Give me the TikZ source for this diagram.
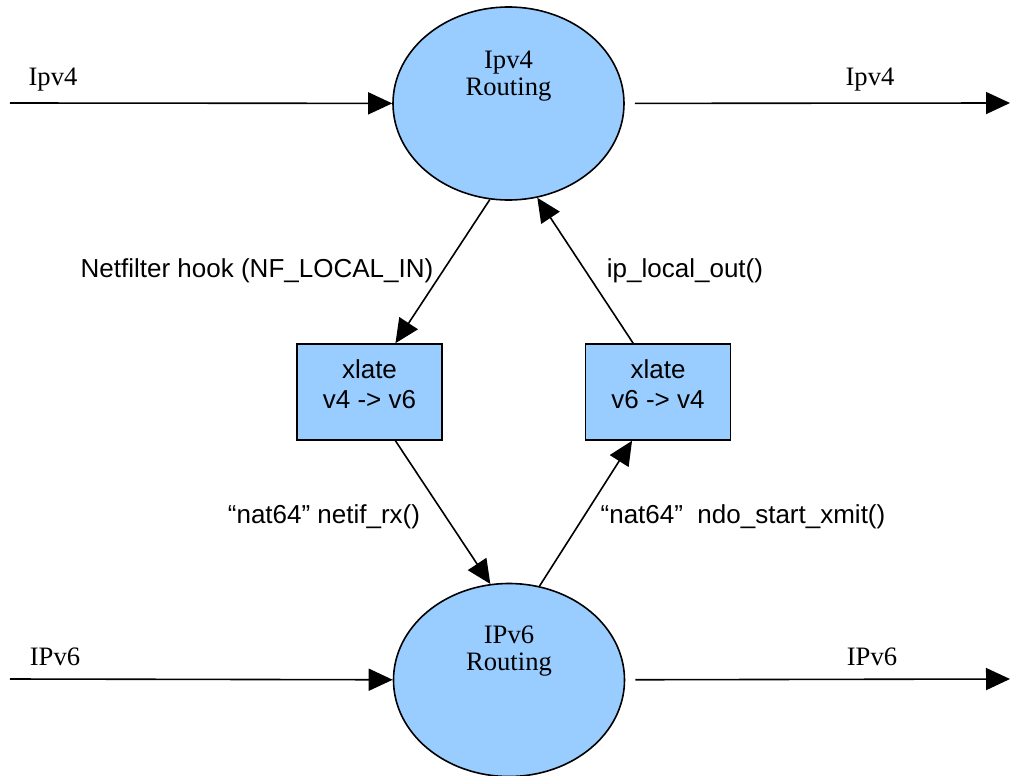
\documentclass[tikz,border=0pt]{standalone}
\usepackage{fontspec}
\setmainfont{Liberation Serif}
\setsansfont{Liberation Sans}
\usetikzlibrary{shapes.geometric,arrows.meta}

\definecolor{nodeblue}{RGB}{153,204,255}

\begin{document}
\begin{tikzpicture}[x=0.5pt,y=-0.5pt,
  routing/.style={ellipse,draw,line width=0.8pt,fill=nodeblue,inner sep=0pt,minimum width=115.5pt,minimum height=96.5pt},
  rtext/.style={font=\fontsize{13.3}{13.5}\selectfont,align=center},
  xlatebox/.style={rectangle,draw,line width=0.8pt,fill=nodeblue,minimum width=72.5pt,minimum height=48pt},
  xtext/.style={align=center,font=\sffamily\fontsize{13}{15}\selectfont},
  hooklabel/.style={font=\sffamily\fontsize{13}{15}\selectfont},
  flow/.style={line width=0.8pt,-{Triangle[length=12pt,width=11pt]}}]

\useasboundingbox (0,0) rectangle (1012,776);

% routing nodes
\node[routing] (rfour) at (508.5,103.5) {};
\node[rtext] (rfourtext) at (508.5,76) {Ipv4\\Routing};
\node[routing] (rsix) at (509,680) {};
\node[rtext] (rsixtext) at (509,651) {IPv6\\Routing};

% translators
\node[xlatebox] (xfour) at (369.5,392) {};
\node[xtext] (xfourtext) at (369.5,384) {xlate\\v4 -> v6};
\node[xlatebox] (xsix) at (658,392) {};
\node[xtext] (xsixtext) at (658,384) {xlate\\v6 -> v4};

% free ends
\coordinate (fourin) at (10,103);
\coordinate (fourout) at (1010,103);
\coordinate (sixin) at (10,679);
\coordinate (sixout) at (1010,679);

% edges
\draw[flow] (fourin) -- (rfour);
\draw[flow,shorten <=5pt] (rfour) -- (fourout);
\draw[flow] (sixin) -- (rsix);
\draw[flow,shorten <=5pt] (rsix) -- (sixout);

\draw[flow] (rfour.259) -- (xfour.62);
\draw[flow] (xsix.117) -- (rfour.287);
\draw[flow] (xfour.298) -- (rsix.101);
\draw[flow] (rsix.72) -- (xsix.242);

% labels
\node[rtext] (lfourin) at (53,80) {Ipv4};
\node[rtext] (lfourout) at (870,80) {Ipv4};
\node[rtext] (lsixin) at (55,657) {IPv6};
\node[rtext] (lsixout) at (872,657) {IPv6};

\node[hooklabel] (lhook) at (257,271) {Netfilter hook (NF\_LOCAL\_IN)};
\node[hooklabel] (lout) at (685,271) {ip\_local\_out()};
\node[hooklabel] (lrx) at (324,517) {“nat64” netif\_rx()};
\node[hooklabel] (lxmit) at (743,517) {“nat64”\ \ ndo\_start\_xmit()};

\end{tikzpicture}
\end{document}
